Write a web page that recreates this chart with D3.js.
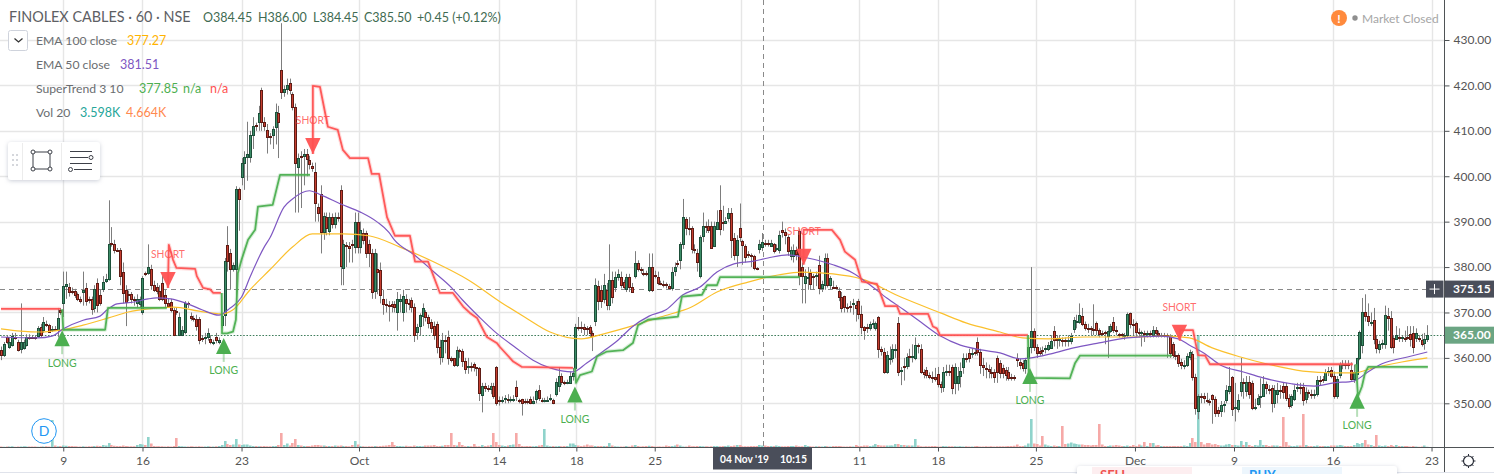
<!DOCTYPE html>
<html><head><meta charset="utf-8"><title>FINOLEX CABLES</title>
<script src="https://cdn.jsdelivr.net/npm/d3@7"></script>
<style>html,body{margin:0;padding:0;background:#fff;overflow:hidden}svg{display:block;font-family:Lato,"Open Sans",sans-serif}</style>
</head><body><svg id="c" width="1494" height="474"></svg>
<script>
// ---------- data ----------
const opens=[
361.8,360.7,364.5,362.5,362.9,364.7,363.6,361.9,362.2,362.9,
364.6,364.6,364.7,364.9,366.8,366.2,367.4,367.2,366.1,366.3,
366.2,370.6,372,375.9,375.6,374.8,374.7,374,372.9,374.4,
375.3,373,372.9,371,376.5,373.8,375.1,377,377.4,385.4,
385.1,383.8,383.7,379,375,374.1,374,372.9,372,371.9,
370,378.7,378.8,379.6,376,375.5,374.8,376.5,373.8,372,
372.4,370.6,370.4,365,365,365.8,372,369.3,368.8,368.5,
368.5,364.3,364.5,364.5,364.1,363.3,364.7,363.6,367.3,369.5,
384.9,383,379.6,379.6,397.2,399.9,402.9,404.3,404.3,409.1,
411.2,412,419,412,410.2,408.9,409,410.9,414,423.3,
418.5,419.3,420.5,418.1,415.2,402,404.5,404.5,405,403.6,
402.2,401,393.2,396,387.7,391,387.9,391,389.5,391,
397,379.8,384.8,384.6,385,384.5,390,384.5,387.5,387.5,
385,383,374.8,379.6,379.4,372.9,371.9,371.7,371.8,371.9,
370.2,372.6,370.2,373,372,372.8,371.3,365.7,367,369.3,
370.2,369,368,367,367.5,362.5,360.1,364,364.7,360,
359.9,358.4,361.7,361.6,359.4,358,358.3,358.6,357.9,357.7,
351.8,353.7,353.3,353.2,353.7,358,350.7,350.7,351,350.9,
350.8,351,353.5,350.8,350.9,350.5,350.4,350.9,350.1,350.9,
352.9,350.8,350.7,350.7,351,350.7,352,353.7,356,354.8,
354.6,354.5,356,357.7,366.9,366.9,366.7,366.5,366.9,365.5,
368.2,375.9,375,372.9,375,371.7,377.2,375.5,377.8,377.8,
376.8,375.1,377.8,375.7,378,381,379.6,378.6,378.6,375,
380,378.3,377.8,376.6,376.3,376.2,375.8,375.4,379.1,381,
381.5,385,390.5,388.5,388.6,384,383,378,386.8,389,
389,389,384.7,388.4,392.6,390,389.7,390.7,392,386.3,
382.7,388.6,385.7,384.6,382.8,382.7,382.5,379.8,384,384.4,
385.2,385.3,384.6,385,383.9,383.8,388.2,387.8,386.6,382.5,
382.5,383.8,388,380,376.5,377.8,378.8,378,378,380.5,
375.4,376,382,376,375.7,375.6,374.8,373.5,373.7,371.3,
371.4,372,371.6,372.6,369.7,366.9,366.8,366.5,367.5,366.6,
369,362,361.4,357,359.9,359.9,362,367.6,357.2,358.3,
358.2,360.4,360.3,360,362.8,362,357,357.4,356.3,355.9,
355.9,356.4,354.3,353.5,357,357.2,358,354.5,354.5,356.1,
358,360,361,360.9,361.2,363.6,361.2,358.5,357.7,357.5,
356.9,356.8,360,358.9,357.8,357.4,357,355.9,355.7,360,
359.2,358.9,357.7,360,362.4,366,362.4,361.6,361.8,361.9,
361.9,362.2,365.9,364.1,364,364,364,363.9,363.8,366.4,
368,367.9,369.3,367.5,366.5,366.5,366.4,367.7,366.2,365.4,
365.6,364.8,366,367.8,366.1,365.2,365.2,365,365,369.8,
367.4,367.6,365.7,365.7,365.4,365.4,365.4,365.1,366.2,365.5,
365,365.1,365,364.9,363,360.7,360.7,359.2,358.5,358.5,
360.3,360.9,355.8,348.4,351.6,351.6,350.7,350.5,351.8,351,
348.5,348.2,349.8,350.7,352.6,355.8,349,348.7,352.6,354.8,
352.6,354.8,354.4,349,349.9,351.4,351.5,354.2,353.2,353.3,
350.1,352,353,353.7,353.7,351.1,349.6,351,353.5,353.6,
353.6,351,352.5,352,352,352,355.2,355.3,355.2,356.8,
357.3,356,351.6,356.2,358.6,358.6,358.6,357.3,355.3,356.5,
360,362.9,370.1,369.2,368,368.3,364.2,362,363,363,
369.2,368.8,364.3,364.2,364.7,364.5,364.4,364.6,365.3,365.4,
364.3,364.4,364,363.3,364.2];
const closes=[
360.7,363,363.6,363.6,364.9,364.5,361.8,363.6,363.6,364.7,
364.4,364.5,364.4,366.5,365,367.8,367.2,365.8,366.4,366.1,
368.8,370,375.9,376.2,374.4,374.6,373.8,372.9,372.5,375,
372.5,372.8,370.7,375.1,371.7,372,376.8,377.4,385.1,385,
383.7,383.7,378,374.3,372.4,373.9,373,372.8,372.9,372.9,
377.6,378.5,380,376,375,374.8,373,373,372,371.5,
370.6,365,370,369,366.2,372,371.8,368.8,368.7,367,
364,364.2,364.5,365.4,363.4,363.5,363.9,364,369.3,381.3,
381.3,379.6,380.4,397.2,395,402.9,404.3,405,409.1,411,
411,414,412,411,408.6,408.7,410.3,414.1,412,418.5,
419.2,420.2,419,415.2,402.9,404,404.4,405,403.7,402.8,
401.8,394,392,387.7,391.3,388.6,391,389.5,391,390.9,
380.3,385,384.6,384.3,384.8,390,384.5,388.2,386,383,
383,374.6,383,379,373.9,371.9,371.7,371.6,371.5,371.2,
373,372.9,373.6,372,371.8,371.2,365,366.8,369.5,371,
369,367.7,366.5,365,362.5,360.1,364,363.7,359.9,359.6,
358.4,361.8,361.5,359.4,357.5,358.3,358.1,357.9,357.7,352.2,
353.7,353.3,353.2,353.8,351.5,350,350.4,350.8,351.1,350.8,
350.9,351,351.5,350.6,350,350.4,350.3,350,350.5,352.6,
351.1,350.7,350.8,350.8,351.1,350,354.8,356,354.8,354.7,
354.8,356,356.6,366.9,366.8,366.7,366.4,366.3,365.4,364.9,
376,372.6,372.6,376,371.7,377.2,373.5,377.8,378.5,376,
375.7,377.8,375.5,374.6,381,379.6,379.4,378.5,378.5,380,
375,378,376.5,376.4,376.2,376,375.4,379,380.1,380.7,
385,391,388.5,388.3,384,383.8,381.2,386.6,389,388.9,
388.2,384.2,389,390,388.4,389.8,390.2,392,386,382.7,
386,386.6,384.8,382.3,382.6,382.5,379.8,379.7,385.1,385.6,
385.1,385,385.2,383.6,384.1,387,387.8,387,383.5,383.8,
383.8,382.9,378,378,378,377.9,376.2,377.8,378.2,375.4,
376.2,382,376,377.5,375.6,375.5,373.4,371,371.3,371.2,
371.3,372.1,370.9,369.7,366.9,366.2,366.7,367.4,367.7,367.6,
361.9,361.6,357,360.7,360,361.9,362,357,357.4,358.2,
360.2,360.3,360.4,362.9,362.7,357,356.4,356.2,355.9,355.8,
355.4,354.3,353.5,357,357.2,357,353.3,358,356.1,357.2,
360,359.9,360,361,361.1,361.2,358.5,358.1,357.5,357.2,
356.6,355.7,357,356.6,356.6,356.3,355.5,355.8,355.6,359.6,
358.5,357.7,359.6,362.4,366,362.5,361.1,361.1,361.5,362.2,
362.8,363.7,363.9,364,364.1,363.9,363.9,364,364.9,368.3,
368.1,369.5,367.5,366.5,366.4,366.4,366.3,366.2,365.2,365.3,
365.5,366,367,366.1,366,365.1,365,365.1,369.7,367.4,
367.3,365.7,365.6,365.7,365.3,365.4,365.3,366.2,365.5,365,
365.1,365,364.9,361,360.7,360.6,358.8,358.5,358.5,360.4,
361.2,355.8,349,351.5,351.5,351.2,350.5,350.2,351,347.8,
347.8,349.7,349.9,353,353.9,348.7,349.1,350.7,354.8,354.7,
354.8,352.1,349,349.2,351.1,351.5,354.2,353.3,353,350.1,
353,353,352.9,352.4,351.1,349.3,351.5,353,353.6,353.4,
350.7,352.5,352.4,351.9,352,355.2,355.1,355.2,356.8,357.1,
356,351.5,355.4,358.6,358.7,358.5,358.4,355.3,356.8,360,
365.6,370.1,369.2,368.1,368,364.2,362.2,363,363.2,369.4,
368.8,362.5,362.5,365,364.6,364.5,364.3,364.5,364.2,362.3,
365.4,364.3,363.1,364.2,365];
const highs=[
362.5,363.5,365,364.5,365.5,365.5,364,372,364,365.2,
365.2,365,365,367,367.5,369,368.2,367.5,367,367,
371,371,379,379,376.5,375.5,375.2,374.4,373.5,379,
376.5,373.5,373.5,376,377.5,375,378,378.5,394.7,388.8,
386,384.2,384.2,381,376,374.8,374.5,373.5,374,373.5,
378,379,385,380.5,377,376.5,376,378,375,373,
373,371,371,370,367,372.5,372.4,370,369.3,369.5,
369,365,365.5,366.5,365,364,365.5,364.5,369.5,382,
389,384,381,397.8,397.5,404,405.5,412,410,413,
411.8,415.5,419.5,413,411.5,409.5,411,416,415.5,433.7,
420,421.5,421.5,418.5,416,405,405.5,406,406,404.5,
403,403,394,398,392,392,392,391.8,392,392,
398,386,385.5,385.5,386,392,392,390,388.5,388,
386,384,384,383,381,375,373,372.5,372.5,372.5,
374.5,374,375,374,373,373.3,372,367.5,369.8,372,
370.5,369.5,368.5,368,368,364,365.5,365,366,360.3,
360,362.5,362,362,360,360,359,359,358,358,
354.5,354.5,354,354.5,354.5,358.2,351.5,351.5,351.8,352,
351.5,351.8,355,351,351,351,351,351.5,351.5,353,
354,351.2,351.2,351.5,352,351,355.5,358,356.6,355,
355.2,357,357.8,367.5,369,368,367.5,367,367.2,366,
377.5,377,376,378.5,376.5,385,379,379,379.5,379,
377.2,378.5,378.5,376.5,383.5,381.5,380,379.6,379.2,383,
383,379.2,379,377,377,376.6,376.3,380,381,381.5,
385.5,395,391,391,389,385,384,387,392,390,
390.5,390,390,392.5,398,393.5,391,393,393,387.5,
387,394,386,385,383.5,383,382.7,380,386,387.5,
386,386,386,385.3,385,388,390,388.5,387,384.5,
385,384.5,388.5,381,379.5,380,379.5,378.5,379,382.5,
377,383,383,378,377,376,375.5,374.5,372.5,372,
372.5,373,372.5,373,371.5,367,367.5,368,368.5,368,
369.2,362.5,362.2,361.5,362.5,363,363,369,358,360,
361,362,363,364.5,363.2,363,357.5,358,356.8,357,
357.8,358,354.8,358,358.5,358.5,358.5,358.8,358,359,
361,361,362,362,362,364.5,362,360,359,358.5,
358,357.5,360.5,359.5,358.5,358,358,356.5,356.2,361,
359.8,359.5,360,363,380,366.5,363,362.3,362.5,362.8,
363.5,365,367,365,365,364.5,364.5,365,365.5,369,
369.5,372,371,368,367.5,367,371.8,368,366.5,366,
366,367,367.5,369,367,365.5,365.5,365.5,370,370,
368.5,368,366.5,366,366,366,366,367,366.8,366,
365.5,365.5,365.4,365.2,363.5,361.5,361,359.8,359.5,361,
361.8,361.5,356.5,352,352.2,352.3,352.3,351,352,351.5,
349.2,350.5,350.5,354,358,356,354.5,352,360,355.5,
356,356,355,351,352,355.5,356,354.8,354,354,
354,354.5,354,354.5,354.5,352,352,354,354.5,354.5,
354.5,353.5,353,353,353,356,356,356,357.5,358,
358,357,356,359,359.5,359.5,359.5,359,358.5,357,
366,373.2,374,372,370,371,365,363.8,364,371.5,
371,370.3,365,367,366.5,365,366,367,367,367,
366.5,365,365.3,365.5,367.2];
const lows=[
359.5,360.2,363,362,362.5,364,361.4,361,361.8,362.5,
364,364.2,364,364.5,364.6,365.5,366.8,365.5,365.7,366,
364.5,369.5,369,373,373.5,374,373.2,372.5,372,371.5,
371.5,372,369.5,370,370,371.5,374.5,376.5,377,384.5,
383,383.3,376,372,367,372.5,372,371.5,371,371,
369.5,378,378.3,375,374.5,374,372.5,372.5,371,371,
370,364.8,369.5,364.8,364.8,365.2,371,368.2,368,366,
363,363.5,363,363.8,363,362.8,363.2,363,366.5,367,
379,375,379,370,388,398,397,399,403,406,
410,410,410,410,405,407,406,407,404,417,
417.5,418,418,414.5,392,392,393,398,400,401.5,
401,390,390,383,386,387,387,388.5,388.5,390,
376,376,380,381,381,383,383,383,385,382,
380,373,373,374,372,369.5,370,368,370,370,
366,370,368,370,370.5,370,363.5,364,365,367,
368,366.5,365.5,364,361,358.5,359,361,358.5,359,
358,358,360,358,356.5,356.5,357,357,356,350.5,
348,352.5,352.5,352,351,349.5,349.5,350,350,350,
350.2,350.3,350.5,350,347.3,349.8,349.8,349.8,349.8,350,
350.5,350.2,350.2,350.3,350.5,349.8,351.5,352.5,354,354,
354.2,355,355,357,366,365.5,365,365,364.5,361.5,
367,370.5,371,372,370.5,370.5,372,374.5,377,375.3,
375,374.5,374.5,374.3,377.5,379,378.5,378,378,374.5,
374.5,377.5,376,376,375.5,375.3,375,374.8,378,380,
379.5,384,387,387,383,383,379,377.5,385.5,387.5,
387.5,384,387,389,387,388,389.5,390,382,381.5,
380,385.5,380.5,381,382,380,379.3,379.3,383,383.5,
384.5,384.5,384.5,383,383.5,383,386.5,385,382.5,381.5,
381,381.5,376,372,372,375,375,375,375.8,374,
374.5,375,375.5,375,375.2,375,372.5,370,370,370,
370,369.5,368,368.5,365.2,364,365.5,366,366.5,366,
360,360.5,356.5,356.5,358.5,359,360,356,354,355,
357.5,358,359,359.5,361,356.5,355.5,355.5,355.3,354.5,
354.8,353.5,352.3,352.5,356,356,352,352,352.8,353.5,
356.5,359,359,360,360.5,360.5,356.5,356,355.5,355.5,
355.5,354.5,354.5,355.5,355.5,355,355,355,355,358,
357.5,357,356.5,359,361,361.5,360,360.5,360.5,361,
361.5,362.5,362.5,362,362.5,362.5,362.5,362.5,363,365.5,
366.5,367.5,367,366,365.5,365,365,365,364.5,364.8,
363,360,365.5,365.5,365,364.5,364.5,364,364.5,366.5,
365,364.5,364.5,362.5,363.5,364.5,364.5,364.5,364.5,364.5,
364.5,364.5,360,360,360,359.5,358,357.5,357.5,358,
359.5,355,347.5,346.5,350,350,350,349.5,345.5,347,
347,347,348,350,352,347.2,346,348,351.5,351,
351.5,351,348.5,348.5,349.5,349,351.5,352,352,348,
349,350,351,351,350.5,348.8,349,350.5,352.5,352,
349.5,350,351.2,351,351,351.5,354,354.5,355,356,
355.5,351,351,355.5,357.5,357.5,357.5,355,354.5,355.5,
359.5,361,368,367,367,363,361,361,362,362,
366,362,361,364,363.5,363.5,363.5,364,362.5,361,
363.5,363.5,362.5,361.8,363.5];
const volumes=[
2,1,2,2,3,1,2,2,3,2,
2,2,2,1,2,2,3,2,108,6,
3,4,6,5,4,4,3,2,2,3,
2,3,3,4,5,4,8,6,16,8,
5,4,4,6,4,3,3,3,8,12,
10,8,40,14,4,3,3,3,2,3,
2,4,36,4,3,2,2,3,2,2,
3,2,2,3,2,2,3,4,8,24,
12,8,10,32,10,8,10,10,6,4,
4,3,3,4,3,3,4,4,8,56,
8,14,6,16,32,8,6,4,4,4,
6,8,8,6,6,4,4,4,6,5,
6,4,4,3,8,24,10,4,3,2,
3,3,4,3,4,5,6,8,20,8,
4,4,3,5,3,3,6,4,4,3,
6,6,6,8,4,4,5,8,8,56,
8,6,20,8,3,4,3,12,3,3,
8,4,6,8,56,20,8,6,4,6,
8,10,56,12,4,3,4,4,3,4,
6,8,72,6,3,4,3,4,3,4,
4,14,14,8,6,4,6,10,6,6,
4,4,4,4,4,16,6,3,2,2,
2,4,2,6,8,4,2,3,4,5,
4,2,2,2,2,6,4,4,6,10,
6,2,2,6,3,3,4,4,3,3,
2,3,4,4,3,4,4,6,4,6,
8,8,3,3,3,4,4,4,8,6,
6,4,4,4,6,4,3,3,4,4,
4,6,3,3,8,4,3,2,3,3,
2,4,3,2,4,4,4,3,2,2,
3,2,8,4,4,6,6,4,6,12,
8,6,6,6,6,6,12,12,8,8,
6,6,6,32,6,3,2,3,3,4,
4,2,2,4,3,3,3,3,2,3,
2,3,2,2,3,4,2,2,3,2,
3,2,3,3,3,3,4,4,5,10,
4,4,6,14,112,14,12,6,44,10,
6,4,6,4,4,84,12,14,18,14,
12,10,10,8,8,6,8,8,92,10,
4,4,6,6,8,6,4,4,6,4,
8,4,10,6,20,4,16,16,6,8,
4,4,4,4,4,4,4,4,6,4,
16,36,20,448,20,10,16,16,10,12,
8,6,6,10,12,8,8,6,24,8,
20,8,4,8,6,28,8,8,4,6,
6,6,4,120,20,6,4,4,6,6,
132,8,4,4,4,6,4,4,4,4,
6,6,6,8,6,4,4,4,8,16,
12,16,28,10,8,4,48,6,4,6,
4,8,4,8,4,4,4,4,2,4,
2,1,2,6,1];
const ema50Bars=[0,13,18,22,29,35,37.5,41,47,52,55,60,66,71,77,81,85,88,93,95,100,103,109,113,120,127,133,137,139,146,153,159,163,169,175,182,188,194,202,207,212,218,223,229,235,241,247,253,259,266,271,278,285,294,301,307,313,319,325,332,339,347,353,360,364,371,379,388,398,410,416,420,425,431,439,446,456,464,471,478,483,488,497,504];
const ema50Vals=[364.6,364.4,364.8,366.4,368.3,369.2,370.6,371.9,372.3,373,373.2,373,371.9,370.6,369.4,371,373.4,377.8,384.4,386.4,393.2,395,396.8,395.9,393.9,392.1,389.9,387.7,386,382.7,378.9,375.6,372.8,369,365.5,362.2,359.5,357.8,356.9,358.9,361.1,363.9,366.8,369.2,370.6,373.9,375.6,378.9,380.7,381.3,382,382.7,382,380.5,378.7,376.1,373.2,370.6,367.9,364.8,362.8,361.7,361.1,359.8,360,360.9,362.2,363.3,364.4,364.8,364.2,362.8,361.1,358.4,356.9,355.6,354.3,353.8,354.5,354.9,356.9,358.7,360.2,361.3];
const ema100Bars=[0,7,14,21,29,38,45,52,61,70,78,82,88,95,103,110,121,130,141,153,165,177,185,194,205,213,224,233,244,253,264,275,283,294,304,318,332,341,353,361,370,383,398,412,420,428,438,447,460,471,478,485,495,504];
const ema100Vals=[366.4,365.9,365.7,366.1,367.2,368.8,370.1,370.8,371.2,370.3,369.7,370.6,375,379.4,384.4,387.3,387.3,386.9,384.4,381.1,377.2,372.1,369,365.7,364.2,365.3,367.2,369,371.2,374.5,376.7,378.3,378.9,378.5,377.4,373.4,369.9,367.7,365.7,364.4,364.2,364.6,364.6,364.8,364.4,362.2,360.2,358.7,357.1,356.7,356.7,357.8,359.1,360];
const redTrendA=[[0,370.8],[21,370.8]];
const redTrendB=[[59,375.4],[59.3,384.9],[60.8,381.6],[62,379.8],[68.6,379.6],[69.2,378],[71.4,375.4],[73.9,375.1],[75,374.3],[77.7,374.3]];
const redTrendC=[[110.2,404.9],[110.2,419.9],[112.7,419.7],[115.5,410.9],[119,410.2],[120.8,405.8],[123.3,404],[129.7,404],[131,400.5],[133.6,400.5],[136.4,391],[139.2,386.9],[144.5,386.9],[146.3,381.2],[150.9,381.2],[155.1,374.3],[159.7,374.3],[163.3,371.3],[165.7,369.9],[168.2,368.8],[171.7,364.6],[175.3,363.2],[176.3,362.4],[181,359.2],[184.1,358],[202.1,357.8]];
const redTrendD=[[283.6,380.5],[283.6,388.2],[293.6,388.2],[296.5,386],[298.2,383.4],[301.8,381.6],[304.2,376.8],[309.5,376.3],[312.4,371.4],[316.6,371.4],[317.7,369.7],[327.6,369.7],[329.3,366.9],[330.7,366.5],[331.8,365],[362.9,365]];
const redTrendE=[[416.6,363.8],[416.6,366.1],[421.2,366.1],[423,360.6],[425.5,360.5],[427.2,358.6],[477.7,358.6]];
const greenTrendA=[[21.6,370.7],[22,366.2],[36.8,366.2],[37.8,371],[58.6,371]];
const greenTrendB=[[78,374.3],[78.1,365.4],[79.9,365.4],[82,365.8],[83,368.4],[83.7,378.7],[85,381.6],[87.3,386],[89.8,388.2],[90.8,393.3],[96,393.7],[98.6,400.3],[109.2,400.3]];
const greenTrendC=[[202.8,357.8],[203.2,354.5],[204.6,356.2],[208.8,357],[210.6,360.3],[214.1,361.4],[219.8,361.7],[223.3,363.3],[225.1,367.2],[228.6,368.4],[239.2,369.1],[240.6,373.5],[247.7,373.9],[249.5,376],[253,376],[254.1,377.8],[282.3,377.8]];
const greenTrendD=[[362.9,365],[363.2,355.6],[377.7,355.5],[379.5,358.8],[381.3,360.5],[413.8,360.5]];
const greenTrendE=[[478.8,358.6],[479.5,351.5],[480.9,353.7],[482,356.7],[483.1,358],[504.2,358]];
const shortBars=[59,110.2,283.7,416.4];
const shortPrices=[375.4,404.9,380.5,363.8];
const longBars=[21.6,78.7,202.8,363.6,479.2];
const longPrices=[366.1,364.4,353.7,357.8,352.3];
const tickBars=[22,50,85,126.5,176,203.3,231,261.4,303.3,331.1,365.7,400.7,435.7,470.7,505.5];
const tickLabels=["9","16","23","Oct","14","18","25","","11","18","25","Dec","9","16","23"];
const priceTicks=[350,360,370,380,390,400,410,420,430];
const crosshairPrice=375.15, lastPrice=365, crosshairBar=269.4;

// ---------- scales ----------
const svg=d3.select("#c");
const x=d3.scaleLinear().domain([0,504]).range([1,1427.3]);
const y=d3.scaleLinear().domain([350,430]).range([403.3,40]);
const yVol=d3.scaleLinear().domain([0,448]).range([447,335]);
const UP="#3c8c67",DOWN="#c63e30",UPB="#1d4f39",DOWNB="#5e1b14",GRID="#e6e6e6",AX="#4f5356";
const RED="#ff5252",GREEN="#4caf50";
const px=v=>Math.round(v)+.5;

// ---------- grid ----------
const g=svg.append("g");
g.selectAll(".h").data(priceTicks).join("line").attr("x1",0).attr("x2",1444).attr("y1",d=>px(y(d))).attr("y2",d=>px(y(d))).attr("stroke",GRID).attr("stroke-width",1.4);
g.selectAll(".v").data(tickBars).join("line").attr("y1",0).attr("y2",447).attr("x1",d=>px(x(d))).attr("x2",d=>px(x(d))).attr("stroke",GRID).attr("stroke-width",1.4);

// ---------- volume ----------
svg.append("g").selectAll("rect").data(volumes).join("rect")
 .attr("x",(d,i)=>Math.round(x(i))-1).attr("width",2.6).attr("y",d=>yVol(d)).attr("height",d=>447-yVol(d))
 .attr("fill",(d,i)=>closes[i]>=opens[i]?"#8fd3cb":"#f6a9a7");

// ---------- price lines ----------
svg.append("line").attr("x1",0).attr("x2",1426).attr("y1",px(y(crosshairPrice))).attr("y2",px(y(crosshairPrice))).attr("stroke","#8a8a8a").attr("stroke-dasharray","5,4");
svg.append("line").attr("x1",px(x(crosshairBar))).attr("x2",px(x(crosshairBar))).attr("y1",0).attr("y2",447).attr("stroke","#8a8a8a").attr("stroke-dasharray","5,4");
svg.append("line").attr("x1",0).attr("x2",1444).attr("y1",px(y(lastPrice))).attr("y2",px(y(lastPrice))).attr("stroke","#3f7d5c").attr("stroke-dasharray","1.6,1.6");

// ---------- candles ----------
const idx=d3.range(opens.length);
const cg=svg.append("g");
cg.selectAll(".w").data(idx).join("line").attr("x1",i=>px(x(i))).attr("x2",i=>px(x(i)))
 .attr("y1",i=>y(Math.max(highs[i],opens[i],closes[i]))).attr("y2",i=>y(Math.min(lows[i],opens[i],closes[i]))).attr("stroke","#7d7d7d");
const bodyTop=i=>px(y(Math.max(opens[i],closes[i])));
const bodyBot=i=>Math.max(bodyTop(i)+1,px(y(Math.min(opens[i],closes[i]))));
cg.selectAll(".b").data(idx).join("rect")
 .attr("x",i=>px(x(i))-1).attr("width",2)
 .attr("y",bodyTop).attr("height",i=>bodyBot(i)-bodyTop(i))
 .attr("fill",i=>closes[i]>=opens[i]?UP:DOWN).attr("stroke",i=>closes[i]>=opens[i]?UPB:DOWNB).attr("stroke-width",1);

// ---------- EMAs ----------
const lineXY=d3.line().x(d=>x(d[0])).y(d=>y(d[1]));
const smooth=d3.line().x(d=>x(d[0])).y(d=>y(d[1])).curve(d3.curveMonotoneX);
svg.append("path").attr("d",smooth(d3.zip(ema100Bars,ema100Vals))).attr("fill","none").attr("stroke","#fbc02d").attr("stroke-width",1.2);
svg.append("path").attr("d",smooth(d3.zip(ema50Bars,ema50Vals))).attr("fill","none").attr("stroke","#7e57c2").attr("stroke-width",1.2);

// ---------- SuperTrend ----------
function trend(data,c){
 svg.append("path").attr("d",lineXY(data)).attr("fill","none").attr("stroke",c).attr("stroke-width",4).attr("stroke-opacity",.2).attr("stroke-linejoin","round");
 svg.append("path").attr("d",lineXY(data)).attr("fill","none").attr("stroke",c).attr("stroke-width",1.8).attr("stroke-opacity",.95).attr("stroke-linejoin","round");
}
[redTrendA,redTrendB,redTrendC,redTrendD,redTrendE].forEach(d=>trend(d,RED));
[greenTrendA,greenTrendB,greenTrendC,greenTrendD,greenTrendE].forEach(d=>trend(d,GREEN));

// ---------- signals ----------
const sig=svg.append("g").attr("text-anchor","middle").style("font-size","12px");
shortBars.forEach((b,i)=>{
 const X=x(b),Y=y(shortPrices[i]);
 sig.append("path").attr("d",`M${X-7.7},${Y-16}L${X+7.7},${Y-16}L${X},${Y}Z`).attr("fill",RED).attr("fill-opacity",.95);
 sig.append("text").attr("x",X).attr("y",Y-29.5).attr("fill",RED).attr("fill-opacity",.85).attr("textLength",34).attr("lengthAdjust","spacingAndGlyphs").text("SHORT");
});
longBars.forEach((b,i)=>{
 const X=x(b),Y=y(longPrices[i]);
 sig.append("path").attr("d",`M${X-7.7},${Y+16}L${X+7.7},${Y+16}L${X},${Y}Z`).attr("fill",GREEN);
 sig.append("line").attr("x1",X).attr("x2",X).attr("y1",Y+16).attr("y2",Y+24).attr("stroke",GREEN).attr("stroke-width",2).attr("stroke-opacity",.4);
 sig.append("text").attr("x",X).attr("y",Y+36.5).attr("fill",GREEN).attr("textLength",29).attr("lengthAdjust","spacingAndGlyphs").text("LONG");
});

// ---------- axes ----------
const right=d3.axisRight(y).tickValues(priceTicks).tickSize(5).tickPadding(4).tickFormat(d3.format(".2f"));
const ax=svg.append("g").attr("transform","translate(1444.5,0)").call(right);
ax.select(".domain").remove();
const bottom=d3.axisBottom(x).tickValues(tickBars).tickSize(4).tickPadding(5).tickFormat((d,i)=>tickLabels[i]);
const bx=svg.append("g").attr("transform","translate(0,447.5)").call(bottom);
bx.select(".domain").remove();
[ax,bx].forEach(a=>{a.selectAll("text").attr("fill","#555").style("font-size","12px").style("font-family","Lato,sans-serif");a.selectAll("line").attr("stroke",AX)});
svg.append("line").attr("x1",1444.5).attr("x2",1444.5).attr("y1",0).attr("y2",472).attr("stroke",AX);
svg.append("line").attr("x1",0).attr("x2",1494).attr("y1",447.5).attr("y2",447.5).attr("stroke",AX);
svg.append("line").attr("x1",0).attr("x2",1494).attr("y1",472.5).attr("y2",472.5).attr("stroke","#e0e3eb");

// price labels
function tag(py,fill,txt){
 svg.append("rect").attr("x",1445).attr("y",y(py)-8.5).attr("width",49).attr("height",17).attr("fill",fill);
 svg.append("text").attr("x",1453).attr("y",y(py)+4.3).attr("fill","#fff").style("font-size","12px").style("font-weight",700).text(txt);
}
tag(crosshairPrice,"#4a4e5a","375.15");
tag(lastPrice,"#6ba583","365.00");
svg.append("rect").attr("x",1426).attr("y",y(crosshairPrice)-8.5).attr("width",17.5).attr("height",17).attr("fill","#4a4e5a");
const plusY=y(crosshairPrice);
svg.append("path").attr("d",`M1429.5,${plusY}h10M1434.5,${plusY-5}v10`).attr("stroke","#fff").attr("fill","none");
// time label
svg.append("rect").attr("x",713).attr("y",447).attr("width",99).attr("height",22.5).attr("fill","#4a4e5a");
svg.append("text").attr("x",720).attr("y",463).attr("fill","#fff").style("font-size","12px").style("font-weight",700).attr("textLength",49).attr("lengthAdjust","spacingAndGlyphs").text("04 Nov '19");
svg.append("text").attr("x",780).attr("y",463).attr("fill","#fff").style("font-size","12px").style("font-weight",700).attr("textLength",27).attr("lengthAdjust","spacingAndGlyphs").text("10:15");

// ---------- header & legend ----------
function t(xp,yp,s,fill,size){return svg.append("text").attr("x",xp).attr("y",yp).attr("fill",fill).style("font-size",(size||12.5)+"px").text(s)}
t(9,22,"FINOLEX CABLES · 60 · NSE","#5d6064",14.4);
const HG="#3f6b52";
t(203,22,"O384.45",HG);t(258,22,"H386.00",HG);t(313,22,"L384.45",HG);t(364,22,"C385.50",HG);t(417,22,"+0.45 (+0.12%)",HG);
svg.append("rect").attr("x",8.5).attr("y",30.5).attr("width",19).attr("height",20).attr("rx",2).attr("fill","#fff").attr("stroke","#cfd3dc");
svg.append("path").attr("d","M14.5,38.5l4,3.5l4,-3.5").attr("fill","none").attr("stroke","#333").attr("stroke-width",1.3);
t(36,45,"EMA 100 close","#6a6d70",12.2);t(127,45,"377.27","#ffb300");
t(36,69,"EMA 50 close","#6a6d70",12.2);t(120,69,"381.51","#7e57c2");
t(36,93,"SuperTrend 3 10","#6a6d70",12.2);t(139,93,"377.85",GREEN);t(183,93,"n/a",GREEN);t(210,93,"n/a",RED);
t(36,117,"Vol 20","#6a6d70",12.2);t(80,117,"3.598K","#26a69a");t(126,117,"4.664K","#ff8a50");

// ---------- drawing toolbar ----------
const defs=svg.append("defs");
const f=defs.append("filter").attr("id","sh").attr("x","-10%").attr("y","-20%").attr("width","120%").attr("height","150%");
f.append("feDropShadow").attr("dx",0).attr("dy",1).attr("stdDeviation",2).attr("flood-color","#8a93a6").attr("flood-opacity",.45);
svg.append("rect").attr("x",8).attr("y",142).attr("width",92).attr("height",38).attr("rx",3).attr("fill","#fff").attr("filter","url(#sh)");
svg.append("path").attr("d","M22.5,143V180M61.5,143V180").attr("stroke","#ececec");
svg.selectAll(".dots").data([[13,155],[17,155],[13,160],[17,160],[13,165],[17,165]]).join("rect").attr("x",d=>d[0]-1).attr("y",d=>d[1]-1).attr("width",2).attr("height",2).attr("fill","#d5d7dc");
svg.append("rect").attr("x",33).attr("y",152).attr("width",17).attr("height",17).attr("fill","none").attr("stroke","#3d4048");
svg.selectAll(".cn").data([[33,152],[50,152],[33,169],[50,169]]).join("circle").attr("cx",d=>d[0]).attr("cy",d=>d[1]).attr("r",2).attr("fill","#fff").attr("stroke","#3d4048");
svg.append("path").attr("d","M70,151.5H92M70,157.5H88M70,163.5H92M74,169.5H92").attr("stroke","#3d4048");
svg.selectAll(".cm").data([[91,157.5],[70.5,169.5]]).join("circle").attr("cx",d=>d[0]).attr("cy",d=>d[1]).attr("r",2).attr("fill","#fff").attr("stroke","#3d4048");

// ---------- small widgets ----------
svg.append("circle").attr("cx",44).attr("cy",431).attr("r",12.3).attr("fill","#fff").attr("stroke","#2196f3");
t(44,436,"D","#2196f3",14).attr("text-anchor","middle");
svg.append("circle").attr("cx",1339).attr("cy",18).attr("r",8).attr("fill","#ff8a3d");
t(1339,22.5,"!","#fff",12).attr("text-anchor","middle").style("font-weight",700);
svg.append("circle").attr("cx",1355).attr("cy",18).attr("r",2.7).attr("fill","#8f8f8f");
t(1362,22.5,"Market Closed","#a6a6a6",12);
svg.append("circle").attr("cx",1468.5).attr("cy",461).attr("r",5).attr("fill","none").attr("stroke","#2a2e39").attr("stroke-width",1.2);
d3.range(8).forEach(k=>{const a=k*Math.PI/4;svg.append("line").attr("x1",1468.5+5*Math.cos(a)).attr("y1",461+5*Math.sin(a)).attr("x2",1468.5+7*Math.cos(a)).attr("y2",461+7*Math.sin(a)).attr("stroke","#2a2e39")});

// ---------- buy / sell panel, cut by the window edge ----------
svg.append("rect").attr("x",1077).attr("y",466).attr("width",320).attr("height",20).attr("rx",3).attr("fill","#fff").attr("filter","url(#sh)");
svg.append("rect").attr("x",1092).attr("y",467).attr("width",100).attr("height",10).attr("fill","#fdeef0");
svg.append("rect").attr("x",1242).attr("y",467).attr("width",100).attr("height",10).attr("fill","#edf6fd");
t(1100,480,"SELL","#ef5350",13).style("font-weight",700);
t(1249,480,"BUY","#2196f3",13).style("font-weight",700);
</script></body></html>
